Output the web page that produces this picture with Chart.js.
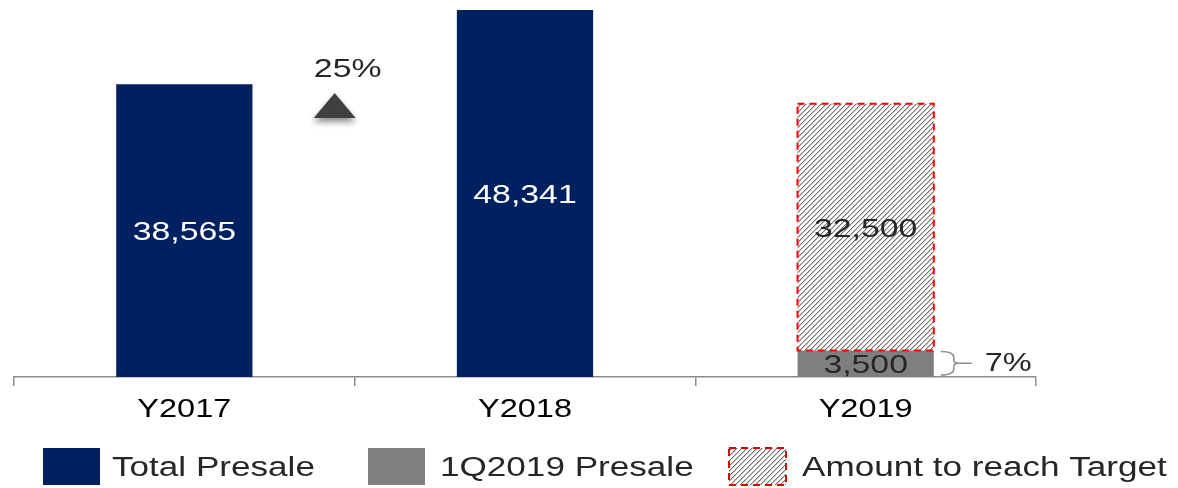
<!DOCTYPE html>
<html>
<head>
<meta charset="utf-8">
<script src="https://cdn.jsdelivr.net/npm/chart.js@4.4.1/dist/chart.umd.min.js"></script>
<style>
  html, body { margin: 0; padding: 0; background: #ffffff; }
  #wrap { width: 1178px; height: 488px; position: relative; }
</style>
</head>
<body>
<div id="wrap"><canvas id="c" width="1178" height="488"></canvas></div>
<script>
// Categories and values
const categories = ['Y2017', 'Y2018', 'Y2019'];
const totalPresale = [38565, 48341, null];
const q1Presale = [null, null, 3500];
const toTarget = [null, null, 32500];
const seriesNames = ['Total Presale', '1Q2019 Presale', 'Amount to reach Target'];
const growthLabel = '25%';
const shareLabel = '7%';
const yMax = 49650;

const NAVY = '#002060';
const GREY = '#7f7f7f';
const TEXT = '#262626';
const FONT = '"Liberation Sans", Arial, sans-serif';
const SX = 1.3; // horizontal stretch applied to all text

// pixel diagonal hatch used for the target remainder
function makeHatch() {
  const n = 5;
  const t = document.createElement('canvas');
  t.width = n; t.height = n;
  const g = t.getContext('2d');
  g.fillStyle = '#ffffff';
  g.fillRect(0, 0, n, n);
  for (let i = 0; i < n; i++) {
    g.fillStyle = '#6e6e6e';
    g.fillRect(i, n - 1 - i, 1, 1);
    g.fillStyle = '#c4c4c4';
    g.fillRect((i + 1) % n, n - 1 - i, 1, 1);
  }
  return g.createPattern(t, 'repeat');
}
const hatch = makeHatch();

function stretchedText(ctx, str, x, y, size, color, align) {
  ctx.save();
  ctx.font = size + 'px ' + FONT;
  ctx.fillStyle = color;
  ctx.textBaseline = 'alphabetic';
  const w = ctx.measureText(str).width * SX;
  let left = x;
  if (align === 'center') left = x - w / 2;
  else if (align === 'right') left = x - w;
  ctx.translate(left, y);
  ctx.scale(SX, 1);
  ctx.textAlign = 'left';
  ctx.fillText(str, 0, 0);
  ctx.restore();
}

function barRect(el) {
  const p = el.getProps(['x', 'y', 'base', 'width'], true);
  return { left: p.x - p.width / 2, right: p.x + p.width / 2, top: Math.min(p.y, p.base), bottom: Math.max(p.y, p.base), cx: p.x };
}

const overlay = {
  id: 'overlay',
  afterDatasetsDraw(chart) {
    const ctx = chart.ctx;
    // dashed outline around the target remainder
    const tMeta = chart.getDatasetMeta(2);
    tMeta.data.forEach((el, i) => {
      if (toTarget[i] == null) return;
      const r = barRect(el);
      ctx.save();
      ctx.strokeStyle = '#ff0000';
      ctx.lineWidth = 2;
      ctx.setLineDash([7, 5]);
      ctx.strokeRect(r.left, r.top, r.right - r.left, r.bottom - r.top);
      ctx.restore();
    });
  },
  afterDraw(chart) {
    const ctx = chart.ctx;
    const xs = chart.scales.x;
    const area = chart.chartArea;

    // category labels
    categories.forEach((c, i) => {
      stretchedText(ctx, c, xs.getPixelForValue(i), area.bottom + 40, 25, '#000000', 'center');
    });

    // value labels inside bars
    const labelSets = [
      { data: totalPresale, color: '#ffffff' },
      { data: q1Presale, color: TEXT },
      { data: toTarget, color: TEXT }
    ];
    labelSets.forEach((set, di) => {
      chart.getDatasetMeta(di).data.forEach((el, i) => {
        const v = set.data[i];
        if (v == null) return;
        const r = barRect(el);
        const cy = (r.top + r.bottom) / 2;
        stretchedText(ctx, v.toLocaleString('en-US'), r.cx, cy + 9.5, 26, set.color, 'center');
      });
    });

    // growth marker between the first two years
    const gx = xs.getPixelForValue(0.5);
    ctx.save();
    ctx.shadowColor = 'rgba(0,0,0,0.45)';
    ctx.shadowBlur = 6;
    ctx.shadowOffsetY = 4;
    ctx.fillStyle = '#404040';
    ctx.beginPath();
    ctx.moveTo(gx - 41, area.top + 118);
    ctx.lineTo(gx + 1, area.top + 118);
    ctx.lineTo(gx - 20, area.top + 93);
    ctx.closePath();
    ctx.fill();
    ctx.restore();
    stretchedText(ctx, growthLabel, gx - 7, area.top + 77, 26, TEXT, 'center');

    // brace beside the 1Q2019 bar
    const qEl = chart.getDatasetMeta(1).data[2];
    const q = barRect(qEl);
    const bx = q.right + 7;
    const top = q.top + 1, bot = q.bottom - 2, mid = (top + bot) / 2;
    ctx.save();
    ctx.strokeStyle = '#8c8c8c';
    ctx.lineWidth = 1.5;
    ctx.beginPath();
    ctx.moveTo(bx, top);
    ctx.quadraticCurveTo(bx + 13, top, bx + 13, top + 6);
    ctx.lineTo(bx + 13, mid - 3);
    ctx.quadraticCurveTo(bx + 13, mid, bx + 18, mid);
    ctx.quadraticCurveTo(bx + 13, mid, bx + 13, mid + 3);
    ctx.lineTo(bx + 13, bot - 6);
    ctx.quadraticCurveTo(bx + 13, bot, bx, bot);
    ctx.moveTo(bx + 18, mid);
    ctx.lineTo(bx + 31, mid);
    ctx.stroke();
    ctx.restore();
    stretchedText(ctx, shareLabel, bx + 44, mid + 8, 25, TEXT, 'left');

    // legend
    const boxes = [
      { x: 43, fill: NAVY, dashed: false },
      { x: 368, fill: GREY, dashed: false },
      { x: 729, fill: hatch, dashed: true }
    ];
    const lx = [112, 440, 802];
    boxes.forEach((b, i) => {
      ctx.save();
      ctx.fillStyle = b.fill;
      ctx.fillRect(b.x, 448, 57, 37);
      if (b.dashed) {
        ctx.strokeStyle = '#e00000';
        ctx.lineWidth = 2;
        ctx.setLineDash([7, 5]);
        ctx.strokeRect(b.x, 448, 57, 37);
      }
      ctx.restore();
      stretchedText(ctx, seriesNames[i], lx[i], 476, 27, TEXT, 'left');
    });
  }
};

new Chart(document.getElementById('c'), {
  type: 'bar',
  data: {
    labels: categories,
    datasets: [
      { label: seriesNames[0], data: totalPresale, backgroundColor: NAVY, borderWidth: 0 },
      { label: seriesNames[1], data: q1Presale, backgroundColor: GREY, borderWidth: 0 },
      { label: seriesNames[2], data: toTarget, backgroundColor: hatch, borderWidth: 0 }
    ]
  },
  options: {
    responsive: false,
    animation: false,
    devicePixelRatio: 1,
    layout: { padding: { left: 14, right: 142, top: 0, bottom: 0 } },
    datasets: { bar: { categoryPercentage: 1, barPercentage: 0.4, skipNull: true } },
    plugins: { legend: { display: false }, tooltip: { enabled: false } },
    scales: {
      x: {
        stacked: true,
        offset: true,
        grid: { display: true, drawOnChartArea: false, drawTicks: true, tickLength: 9, color: '#8c8c8c', lineWidth: 1.5, offset: true },
        border: { display: true, color: '#8c8c8c', width: 1.5 },
        ticks: { display: false },
        afterFit(scale) { scale.height = 111; }
      },
      y: {
        stacked: true,
        display: false,
        min: 0,
        max: yMax
      }
    }
  },
  plugins: [overlay]
});
</script>
</body>
</html>
